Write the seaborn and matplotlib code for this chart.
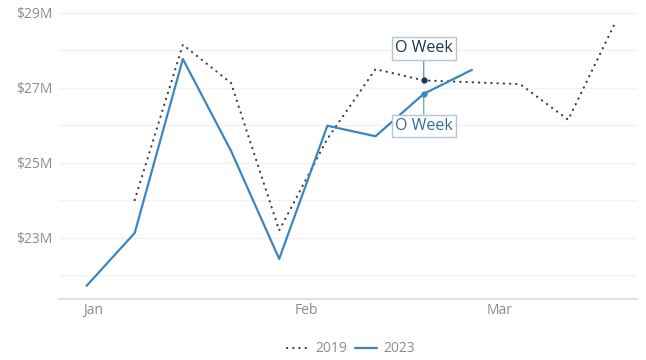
import pandas as pd
import seaborn as sns
import matplotlib.pyplot as plt
import matplotlib.dates as mdates
from matplotlib.ticker import FixedLocator, FuncFormatter

# weekly revenue ($M), both years aligned on one calendar
dates_2023 = pd.date_range('2022-12-31', periods=9, freq='7D')
rev_2023 = [21.72, 23.13, 27.77, 25.32, 22.44, 25.99, 25.71, 26.84, 27.48]
dates_2019 = pd.date_range('2023-01-07', periods=11, freq='7D')
rev_2019 = [24.01, 28.15, 27.13, 23.2, 25.64, 27.5, 27.2, 27.15, 27.1, 26.15, 28.8]
years = ['2019', '2023']
oweek_date = pd.Timestamp('2023-02-18')

df = pd.concat([
    pd.DataFrame({'date': dates_2019, 'revenue': rev_2019, 'year': years[0]}),
    pd.DataFrame({'date': dates_2023, 'revenue': rev_2023, 'year': years[1]}),
])

sns.set_theme(style='white')
plt.rcParams['font.family'] = ['Open Sans', 'DejaVu Sans']

c2019 = '#35404e'
c2023 = '#3d86bd'

fig = plt.figure(figsize=(6.46, 3.6), dpi=100)
ax = fig.add_axes([59/646, 1-299/360, 578/646, 294/360])

sns.lineplot(data=df, x='date', y='revenue', hue='year', style='year',
             palette={'2019': c2019, '2023': c2023},
             dashes={'2019': (0.1, 2.7), '2023': ''},
             linewidth=1.6, ax=ax)
ax.lines[0].set_dash_capstyle('round')

ax.set_xlim(pd.Timestamp('2022-12-27'), pd.Timestamp('2023-03-21'))
ax.set_ylim(21.37, 29.21)
ax.xaxis.set_major_locator(mdates.MonthLocator())
ax.xaxis.set_major_formatter(mdates.DateFormatter('%b'))
ax.yaxis.set_major_locator(FixedLocator([23, 25, 27, 29]))
ax.yaxis.set_minor_locator(FixedLocator([22, 24, 26, 28]))
ax.yaxis.set_major_formatter(FuncFormatter(lambda v, p: '${:.0f}M'.format(v)))
ax.grid(axis='y', which='both', color='#f1f1f1', linewidth=1)
ax.set_xlabel('')
ax.set_ylabel('')
for s in ['top', 'right', 'left']:
    ax.spines[s].set_visible(False)
ax.spines['bottom'].set_color('#dcdcdc')
ax.tick_params(axis='both', length=0, labelsize=10, colors='#8c8c8c')
ax.tick_params(axis='y', pad=5)
ax.tick_params(axis='x', pad=3)

# O Week annotations
y19 = rev_2019[list(dates_2019).index(oweek_date)]
y23 = rev_2023[list(dates_2023).index(oweek_date)]
box = dict(boxstyle='square,pad=0.2', fc='white', ec='#b7c6d3', lw=1)
ax.plot([oweek_date], [y19], 'o', color='#1d3550', ms=3.5, zorder=5)
ax.plot([oweek_date], [y23], 'o', color=c2023, ms=3.5, zorder=5)
ax.annotate('O Week', (oweek_date, y19), xytext=(0, 32), textcoords='offset pixels',
            ha='center', va='center', fontsize=11.5, color='#1d3550', bbox=box,
            arrowprops=dict(arrowstyle='-', color='#7f95a8', lw=1, shrinkA=0, shrinkB=0))
ax.annotate('O Week', (oweek_date, y23), xytext=(0, -32), textcoords='offset pixels',
            ha='center', va='center', fontsize=11.5, color='#2e6e9e', bbox=box,
            arrowprops=dict(arrowstyle='-', color='#7fa8c8', lw=1, shrinkA=0, shrinkB=0))

sns.move_legend(ax, 'center', bbox_to_anchor=(351/646, 1-349/360),
                bbox_transform=fig.transFigure, ncol=2, frameon=False, title=None,
                fontsize=10, handlelength=1.6, columnspacing=0.5, handletextpad=0.5)
leg = ax.get_legend()
for t in leg.get_texts():
    t.set_color('#8c8c8c')
leg_lines = leg.get_lines()
leg_lines[0].set_dash_capstyle('round')
leg_lines[0].set_linestyle((0, (0.1, 2.7)))
leg_lines[0].set_linewidth(1.6)

fig.savefig('out.png', dpi=100)
